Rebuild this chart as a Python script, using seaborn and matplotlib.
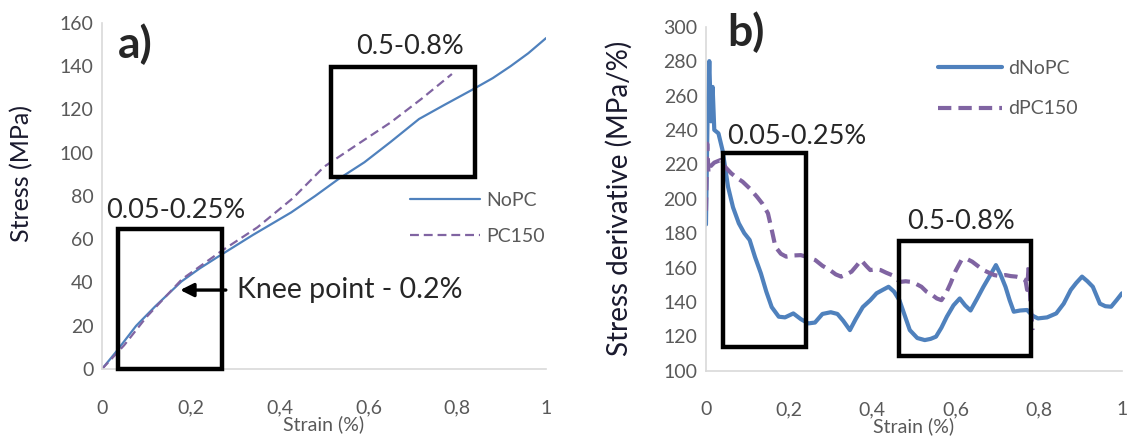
import numpy as np
import pandas as pd
import matplotlib
matplotlib.use("Agg")
import matplotlib.pyplot as plt
from matplotlib.patches import Rectangle
import seaborn as sns

# ----------------------------
# Data
# ----------------------------
# a) stress-strain curves
nopc_strain = [0.0, 0.03, 0.077, 0.12, 0.179, 0.22, 0.262, 0.34, 0.426, 0.48, 0.533,
               0.591, 0.65, 0.714, 0.77, 0.83, 0.88, 0.92, 0.96, 1.0]
nopc_stress = [0.0, 7.5, 20.0, 29.0, 40.5, 46.5, 52.0, 62.0, 72.4, 80.0, 87.9,
               95.6, 105.0, 115.6, 122.0, 128.7, 134.5, 140.0, 146.0, 153.0]
pc150_strain = [0.0, 0.05, 0.1, 0.18, 0.27, 0.35, 0.43, 0.5, 0.58, 0.65, 0.72, 0.788]
pc150_stress = [0.0, 11.0, 24.0, 41.5, 54.7, 65.5, 79.0, 93.5, 104.5, 114.0, 125.0, 136.4]

# b) stress derivative curves
dnopc_strain = [0.0, 0.004, 0.008, 0.012, 0.016, 0.02, 0.03, 0.04, 0.053, 0.065, 0.079,
                0.092, 0.105, 0.118, 0.132, 0.145, 0.158, 0.175, 0.19, 0.21, 0.228,
                0.246, 0.262, 0.28, 0.3, 0.316, 0.33, 0.346, 0.36, 0.377, 0.395, 0.41,
                0.425, 0.439, 0.452, 0.465, 0.478, 0.49, 0.508, 0.526, 0.54, 0.553,
                0.566, 0.579, 0.595, 0.61, 0.623, 0.636, 0.652, 0.667, 0.682, 0.697,
                0.708, 0.72, 0.73, 0.74, 0.755, 0.772, 0.785, 0.798, 0.82, 0.842, 0.86,
                0.877, 0.89, 0.904, 0.917, 0.93, 0.947, 0.96, 0.974, 0.987, 1.0]
dnopc_value = [185.0, 250.0, 280.0, 245.0, 265.0, 240.0, 238.0, 228.0, 207.0, 195.0, 185.7,
               180.0, 176.0, 166.0, 156.6, 146.0, 137.0, 131.4, 131.0, 133.3, 130.0,
               127.5, 128.0, 133.0, 134.0, 133.0, 129.0, 123.6, 130.0, 137.0, 141.0, 145.0,
               147.0, 148.8, 146.0, 141.0, 132.0, 123.6, 119.0, 117.8, 118.5, 119.8,
               125.0, 131.4, 138.0, 142.0, 138.0, 135.0, 142.0, 148.8, 155.0, 161.4,
               156.0, 148.8, 141.0, 134.3, 135.0, 135.3, 132.0, 130.4, 131.0, 133.3, 139.0,
               147.0, 151.0, 154.7, 152.0, 148.8, 139.0, 137.5, 137.2, 141.0, 145.0]
dpc150_strain = [0.0, 0.003, 0.006, 0.01, 0.02, 0.035, 0.048, 0.061, 0.075, 0.088, 0.105,
                 0.123, 0.136, 0.149, 0.158, 0.167, 0.18, 0.193, 0.21, 0.228, 0.245, 0.263,
                 0.28, 0.298, 0.312, 0.325, 0.338, 0.35, 0.362, 0.373, 0.385, 0.395, 0.408,
                 0.42, 0.433, 0.447, 0.458, 0.469, 0.48, 0.491, 0.505, 0.518, 0.53, 0.544,
                 0.555, 0.566, 0.577, 0.588, 0.6, 0.614, 0.627, 0.64, 0.653, 0.667, 0.68,
                 0.693, 0.707, 0.72, 0.733, 0.746, 0.758, 0.768, 0.772, 0.776, 0.78, 0.785]
dpc150_value = [193.0, 232.0, 215.0, 218.6, 221.0, 222.5, 218.0, 214.7, 212.0, 209.9, 206.0,
                201.0, 197.0, 191.5, 182.0, 172.0, 168.0, 166.3, 167.0, 167.2, 166.0, 164.3,
                161.0, 158.5, 156.0, 154.7, 156.0, 157.6, 161.0, 164.3, 161.0, 158.5, 159.0,
                158.5, 157.0, 155.6, 153.0, 151.7, 152.0, 151.7, 150.5, 148.8, 146.0, 144.0,
                142.0, 141.0, 145.0, 150.8, 158.0, 164.3, 165.0, 163.4, 161.0, 158.5, 157.0,
                155.6, 155.0, 155.6, 155.0, 154.7, 154.0, 152.7, 147.0, 162.0, 140.0, 123.6]

# highlighted strain windows: (x0, x1, y0, y1)
boxes_a = [(0.035, 0.27, 0.0, 64.5), (0.515, 0.84, 88.6, 139.5)]
boxes_b = [(0.041, 0.241, 114.0, 226.4), (0.465, 0.781, 108.5, 175.6)]

xtick_vals = [0, 0.2, 0.4, 0.6, 0.8, 1.0]
xtick_labels = ["0", "0,2", "0,4", "0,6", "0,8", "1"]

# ----------------------------
# Style
# ----------------------------
sns.set_style("white")
plt.rcParams['font.family'] = ['Lato', 'DejaVu Sans']

BLUE = '#4f81bd'
PURPLE = '#8064a2'
GRAY_TXT = '#595959'
GRAY_AX = '#d9d9d9'

fig = plt.figure(figsize=(11.31, 4.41), dpi=100)
ax_a = fig.add_axes([0.0902, 0.1633, 0.3926, 0.7846])
ax_b = fig.add_axes([0.6242, 0.1594, 0.3678, 0.780])


def excel_axes(ax, ylim, yticks):
    ax.set_xlim(0, 1)
    ax.set_ylim(*ylim)
    ax.set_xticks(xtick_vals)
    ax.set_xticklabels(xtick_labels)
    ax.set_yticks(yticks)
    ax.tick_params(axis='both', length=0, labelsize=14, labelcolor=GRAY_TXT)
    ax.tick_params(axis='x', pad=22)
    ax.tick_params(axis='y', pad=6)
    for s in ['top', 'right']:
        ax.spines[s].set_visible(False)
    for s in ['left', 'bottom']:
        ax.spines[s].set_color(GRAY_AX)
        ax.spines[s].set_linewidth(1.2)
    ax.set_xlabel('Strain (%)', fontsize=14, color=GRAY_TXT, labelpad=-1)


def draw_boxes(ax, boxes):
    for x0, x1, y0, y1 in boxes:
        ax.add_patch(Rectangle((x0, y0), x1 - x0, y1 - y0, fill=False,
                               edgecolor='black', linewidth=3.2, clip_on=False,
                               zorder=5))


# ----------------------------
# a) Stress-strain
# ----------------------------
sns.lineplot(x=nopc_strain, y=nopc_stress, ax=ax_a, color=BLUE, linewidth=1.6,
             label='NoPC')
sns.lineplot(x=pc150_strain, y=pc150_stress, ax=ax_a, color=PURPLE, linewidth=1.6,
             linestyle=(0, (4, 2.2)), label='PC150')
excel_axes(ax_a, (0, 160), np.arange(0, 161, 20))
ax_a.set_ylabel('Stress (MPa)', fontsize=18, color='#1a1a2e')
ax_a.yaxis.set_label_coords(-0.155, 0.566)
draw_boxes(ax_a, boxes_a)
ax_a.text(0.165, 73.5, '0.05-0.25%', fontsize=19.5, ha='center', va='center')
ax_a.text(0.694, 149, '0.5-0.8%', fontsize=19.5, ha='center', va='center')
ax_a.annotate('Knee point - 0.2%', xy=(0.176, 36.5), xytext=(0.305, 36.5),
              fontsize=20.5, va='center', ha='left',
              arrowprops=dict(arrowstyle='-|>', color='black', lw=2.4,
                              mutation_scale=20, shrinkA=6, shrinkB=0))
ax_a.text(0.036, 150, 'a)', fontsize=32, fontweight='bold', ha='left', va='center')
leg_a = ax_a.legend(loc='center left', bbox_to_anchor=(0.655, 0.435), frameon=False,
                    fontsize=14, handlelength=3.6, labelspacing=1.0,
                    handletextpad=0.3)
for t in leg_a.get_texts():
    t.set_color(GRAY_TXT)

# ----------------------------
# b) Stress derivative
# ----------------------------
sns.lineplot(x=dnopc_strain, y=dnopc_value, ax=ax_b, color=BLUE, linewidth=3.0,
             label='dNoPC')
sns.lineplot(x=dpc150_strain, y=dpc150_value, ax=ax_b, color=PURPLE, linewidth=3.0,
             linestyle=(0, (3.2, 1.7)), label='dPC150')
excel_axes(ax_b, (100, 300), np.arange(100, 301, 20))
ax_b.set_ylabel('Stress derivative (MPa/%)', fontsize=20, color='#1a1a2e')
ax_b.yaxis.set_label_coords(-0.176, 0.5)
draw_boxes(ax_b, boxes_b)
ax_b.text(0.219, 236, '0.05-0.25%', fontsize=19.5, ha='center', va='center')
ax_b.text(0.614, 186.6, '0.5-0.8%', fontsize=19.5, ha='center', va='center')
ax_b.text(0.05, 297, 'b)', fontsize=32, fontweight='bold', ha='left', va='center')
leg_b = ax_b.legend(loc='center left', bbox_to_anchor=(0.515, 0.82), frameon=False,
                    fontsize=14, handlelength=3.3, labelspacing=1.2,
                    handletextpad=0.3)
for t in leg_b.get_texts():
    t.set_color(GRAY_TXT)

plt.savefig('out.png', dpi=100)
